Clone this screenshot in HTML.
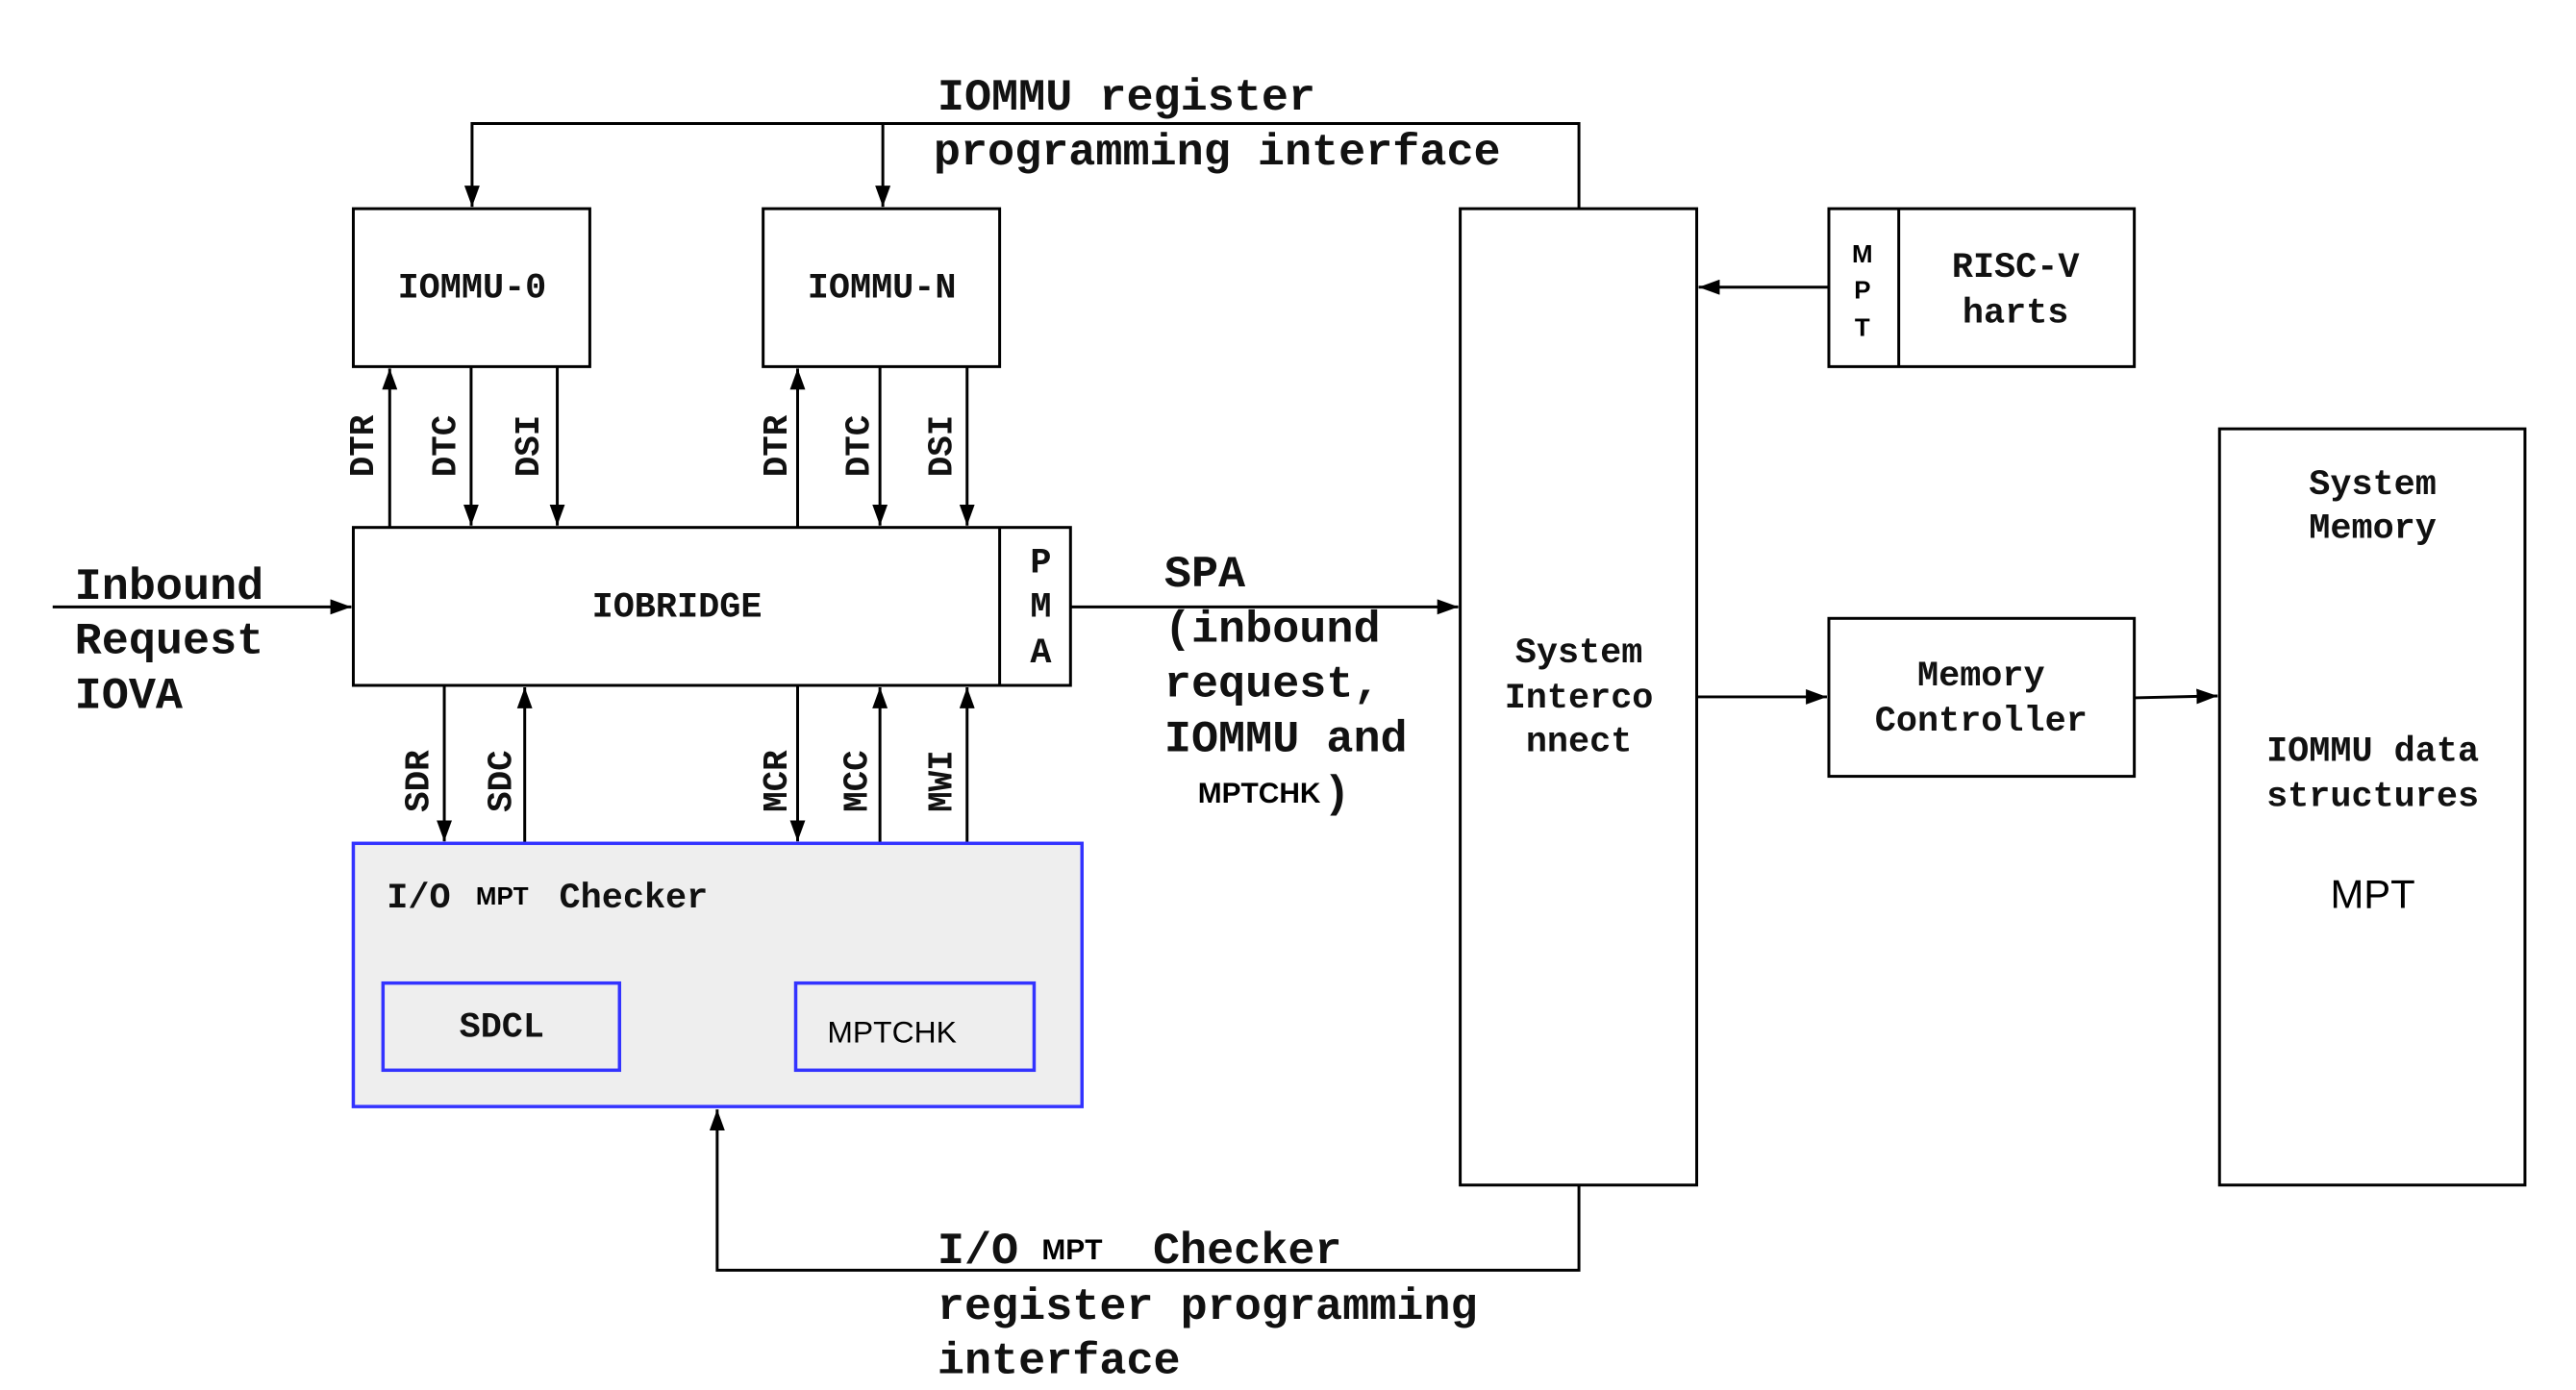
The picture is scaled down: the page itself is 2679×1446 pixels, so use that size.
<!DOCTYPE html>
<html><head><meta charset="utf-8"><style>
html,body{margin:0;padding:0;background:#fff}
svg{display:block}
.m{font-family:"Liberation Mono",monospace;font-weight:bold;fill:#111}
.s{font-family:"Liberation Sans",sans-serif;fill:#000}
</style></head><body>
<svg width="2679" height="1446" viewBox="0 0 2679 1446" xmlns="http://www.w3.org/2000/svg">
<defs>
<marker id="b" viewBox="0 0 22 16" refX="22" refY="8" markerWidth="22" markerHeight="16" markerUnits="userSpaceOnUse" orient="auto">
<path d="M0,0 L22,8 L0,16 z" fill="#000"/>
</marker>
</defs>
<g transform="scale(0.9958)">
<g stroke="#000" stroke-width="3" fill="none">
<polyline points="1649,218 1649,129 493,129 493,216" marker-end="url(#b)"/>
<line x1="922" y1="129" x2="922" y2="216" marker-end="url(#b)"/>
<rect x="369" y="218" width="247" height="165"/>
<rect x="797" y="218" width="247" height="165"/>
<rect x="369" y="551" width="749" height="165"/>
<line x1="1044" y1="551" x2="1044" y2="716"/>
<rect x="1525" y="218" width="247" height="1020"/>
<rect x="1910" y="218" width="319" height="165"/>
<line x1="1983" y1="218" x2="1983" y2="383"/>
<rect x="1910" y="646" width="319" height="165"/>
<rect x="2318" y="448" width="319" height="790"/>
<line x1="407" y1="551" x2="407" y2="385" marker-end="url(#b)"/>
<line x1="492" y1="383" x2="492" y2="549" marker-end="url(#b)"/>
<line x1="582" y1="383" x2="582" y2="549" marker-end="url(#b)"/>
<line x1="833" y1="551" x2="833" y2="385" marker-end="url(#b)"/>
<line x1="919" y1="383" x2="919" y2="549" marker-end="url(#b)"/>
<line x1="1010" y1="383" x2="1010" y2="549" marker-end="url(#b)"/>
<line x1="464" y1="716" x2="464" y2="879" marker-end="url(#b)"/>
<line x1="548" y1="881" x2="548" y2="718" marker-end="url(#b)"/>
<line x1="833" y1="716" x2="833" y2="879" marker-end="url(#b)"/>
<line x1="919" y1="881" x2="919" y2="718" marker-end="url(#b)"/>
<line x1="1010" y1="881" x2="1010" y2="718" marker-end="url(#b)"/>
<line x1="55" y1="634" x2="367" y2="634" marker-end="url(#b)"/>
<line x1="1118" y1="634" x2="1523" y2="634" marker-end="url(#b)"/>
<line x1="1910" y1="300" x2="1774" y2="300" marker-end="url(#b)"/>
<line x1="1772" y1="728" x2="1908" y2="728" marker-end="url(#b)"/>
<line x1="2229" y1="729" x2="2316" y2="727" marker-end="url(#b)"/>
<polyline points="1649,1238 1649,1327 749,1327 749,1159" marker-end="url(#b)"/>
</g>
<rect x="369" y="881" width="761" height="275" fill="#eeeeee" stroke="#3333ff" stroke-width="3.5"/>
<rect x="400" y="1027" width="247" height="91" fill="none" stroke="#3333ff" stroke-width="3.5"/>
<rect x="831" y="1027" width="249" height="91" fill="none" stroke="#3333ff" stroke-width="3.5"/>

<g class="m" font-size="37" dominant-baseline="central" text-anchor="middle">
<text x="493" y="302">IOMMU-0</text>
<text x="921" y="302">IOMMU-N</text>
<text x="707" y="635">IOBRIDGE</text>
<text x="1087" y="589">P</text>
<text x="1087" y="635">M</text>
<text x="1087" y="683">A</text>
<text x="1649" y="683">System</text>
<text x="1649" y="730">Interco</text>
<text x="1649" y="776">nnect</text>
<text x="2105" y="280">RISC-V</text>
<text x="2105" y="328">harts</text>
<text x="2069" y="707">Memory</text>
<text x="2069" y="754">Controller</text>
<text x="2478" y="507">System</text>
<text x="2478" y="553">Memory</text>
<text x="2478" y="786">IOMMU data</text>
<text x="2478" y="833">structures</text>
<text x="524" y="1074">SDCL</text>
</g>
<g class="m" font-size="36" dominant-baseline="central" text-anchor="middle">
<text transform="translate(380,466) rotate(-90)">DTR</text>
<text transform="translate(466,466) rotate(-90)">DTC</text>
<text transform="translate(553,466) rotate(-90)">DSI</text>
<text transform="translate(812,466) rotate(-90)">DTR</text>
<text transform="translate(898,466) rotate(-90)">DTC</text>
<text transform="translate(984,466) rotate(-90)">DSI</text>
<text transform="translate(438,816) rotate(-90)">SDR</text>
<text transform="translate(524,816) rotate(-90)">SDC</text>
<text transform="translate(812,816) rotate(-90)">MCR</text>
<text transform="translate(896,816) rotate(-90)">MCC</text>
<text transform="translate(984,816) rotate(-90)">MWI</text>
</g>
<g class="m" font-size="47" dominant-baseline="central">
<text x="78" y="614">Inbound</text>
<text x="78" y="671">Request</text>
<text x="78" y="728">IOVA</text>
<text x="1216" y="601">SPA</text>
<text x="1216" y="659">(inbound</text>
<text x="1216" y="716">request,</text>
<text x="1216" y="773">IOMMU and</text>
<text x="1382" y="831">)</text>
<text x="979" y="103">IOMMU register</text>
<text x="975" y="160">programming interface</text>
<text x="979" y="1308">I/O</text>
<text x="1204" y="1308">Checker</text>
<text x="979" y="1366">register programming</text>
<text x="979" y="1423">interface</text>
</g>
<text class="m" font-size="37" x="404" y="939" dominant-baseline="central">I/O</text>
<text class="m" font-size="37" x="584" y="939" dominant-baseline="central">Checker</text>
<g class="s" dominant-baseline="central">
<text x="1251" y="829" font-size="30" font-weight="bold">MPTCHK</text>
<text x="1088" y="1306" font-size="30" font-weight="bold">MPT</text>
<text x="497" y="937" font-size="26" font-weight="bold">MPT</text>
<text x="864" y="1078" font-size="32">MPTCHK</text>
<text x="2478" y="934" font-size="42" text-anchor="middle">MPT</text>
<text x="1945" y="266" font-size="26" font-weight="bold" text-anchor="middle">M</text>
<text x="1945" y="304" font-size="26" font-weight="bold" text-anchor="middle">P</text>
<text x="1945" y="343" font-size="26" font-weight="bold" text-anchor="middle">T</text>
</g>
</g>
</svg>
</body></html>
